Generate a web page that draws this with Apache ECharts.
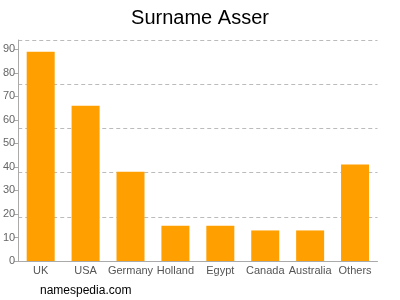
<!DOCTYPE html>
<html>
<head>
<meta charset="utf-8">
<script src="https://cdn.jsdelivr.net/npm/echarts@6/dist/echarts.min.js"></script>
<style>html,body{margin:0;padding:0;background:#fff}#c{width:400px;height:300px}</style>
</head>
<body>
<div id="c"></div>
<script>
var categories = ['UK', 'USA', 'Germany', 'Holland', 'Egypt', 'Canada', 'Australia', 'Others'];
var counts = [89, 66, 38, 15, 15, 13, 13, 41];
var yTicks = [0, 10, 20, 30, 40, 50, 60, 70, 80, 90];

var chart = echarts.init(document.getElementById('c'), null, {renderer: 'canvas'});
chart.setOption({
  animation: false,
  backgroundColor: '#fff',
  title: [
    {text: 'Surname Asser', left: 'center', top: 3,
     textStyle: {fontFamily: 'Liberation Sans, Arial, sans-serif', fontSize: 20, fontWeight: 'normal', color: '#000'}},
    {text: 'namespedia.com', left: 35, top: 280,
     textStyle: {fontFamily: 'Liberation Sans, Arial, sans-serif', fontSize: 12, fontWeight: 'normal', color: '#000'}}
  ],
  grid: {left: 17.5, right: 22.5, top: 40, bottom: 39, containLabel: false},
  xAxis: {
    type: 'category', data: categories,
    axisLine: {lineStyle: {color: '#aaa'}},
    axisTick: {show: false},
    axisLabel: {color: '#555', fontSize: 11, fontFamily: 'Liberation Sans, Arial, sans-serif', margin: 4, interval: 0}
  },
  yAxis: [
    {type: 'value', min: 0, max: 94, interval: 10,
     axisLine: {show: true, lineStyle: {color: '#aaa'}},
     axisTick: {show: true, length: 4, customValues: yTicks, lineStyle: {color: '#aaa'}},
     axisLabel: {customValues: yTicks, color: '#666', fontSize: 11, fontFamily: 'Liberation Sans, Arial, sans-serif', margin: 3},
     splitLine: {show: false}},
    {type: 'value', min: 0, max: 5, interval: 1, position: 'left',
     axisLine: {show: false}, axisTick: {show: false}, axisLabel: {show: false},
     splitLine: {show: true, lineStyle: {color: '#bbb', type: [4, 3], width: 1}}}
  ],
  series: [{
    type: 'bar', data: counts, yAxisIndex: 0, barWidth: 28,
    itemStyle: {color: '#ffa000'}
  }]
});
</script>
</body>
</html>
